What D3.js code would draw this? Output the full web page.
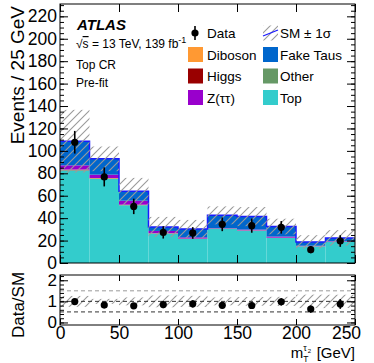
<!DOCTYPE html>
<html>
<head>
<meta charset="utf-8">
<style>
    body { margin: 0; background: white; }
    svg { display: block; }
    text { font-family: "Liberation Sans", Arial, Helvetica, sans-serif; fill: #000; }
    .tick line { stroke: #000; }
</style>
<script src="https://cdn.jsdelivr.net/npm/d3@7"></script>
</head>
<body>
<svg id="chart" width="374" height="363"></svg>
<script>
    // bin edges of mT(tau2) in GeV
    var binEdges = [0, 25, 50, 75, 100, 125, 150, 175, 200, 225, 250];

    // stacked backgrounds, events per bin (bottom to top)
    var top_ = [82.4, 75.0, 51.4, 26.2, 21.4, 30.4, 28.8, 22.3, 14.8, 18.8];
    var other = [0.4, 0.3, 0.3, 0.2, 0.2, 0.1, 0.1, 0.1, 0.1, 0.1];
    var higgs = [0.2, 0.2, 0.1, 0.1, 0.1, 0.1, 0.1, 0.1, 0.05, 0.05];
    var diboson = [0.3, 0.3, 0.2, 0.1, 0.1, 0.1, 0.1, 0.1, 0.05, 0.05];
    var ztautau = [3.8, 3.0, 3.6, 2.0, 1.1, 0.3, 0.7, 1.0, 0.4, 0.4];
    var fakeTaus = [21.5, 14.1, 8.3, 3.5, 7.5, 11.5, 11.6, 8.9, 3.4, 2.9];

    // SM uncertainty (absolute)
    var smUnc = [28, 11, 12, 9, 8, 8, 8.5, 7, 6, 7];

    // observed data
    var dataVals = [107.7, 76.8, 50.5, 27.3, 26.8, 34.5, 33.3, 31.8, 11.9, 19.6];
    var dataErr = [10.1, 8.5, 6.9, 5.5, 5.2, 6.1, 6.3, 5.6, 3.2, 5.2];

    var xTicks = [0, 50, 100, 150, 200, 250];
    var yTicks = [0, 20, 40, 60, 80, 100, 120, 140, 160, 180, 200, 220];
    var ratioTicks = [0, 1, 2];

    var stackNames = ["Top", "Other", "Higgs", "Diboson", "Z(ττ)", "Fake Taus"];
    var stackColors = ["#33cccc", "#669966", "#990000", "#ff9933", "#9900cc", "#0066cc"];
    var stackVals = [top_, other, higgs, diboson, ztautau, fakeTaus];

    var svg = d3.select("#chart");
    var font = "'Liberation Sans', Arial, Helvetica, sans-serif";

    var x = d3.scaleLinear().domain([0, 250]).range([60, 355]);
    var y = d3.scaleLinear().domain([0, 231]).range([263, 4]);
    var yr = d3.scaleLinear().domain([-0.12, 2.25]).range([325, 275]);

    // hatch pattern for the uncertainty band
    var defs = svg.append("defs");
    defs.append("pattern").attr("id", "hatch").attr("patternUnits", "userSpaceOnUse")
        .attr("width", 8).attr("height", 8)
        .append("path").attr("d", "M-2,2 L2,-2 M0,8 L8,0 M6,10 L10,6")
        .attr("stroke", "#9a9a9a").attr("stroke-width", 1.1);

    // totals
    var nBins = binEdges.length - 1;
    var total = [];
    for (var i = 0; i < nBins; i++) {
        var s = 0;
        stackVals.forEach(function (arr) { s += arr[i]; });
        total.push(s);
    }

    // ---- main panel ----
    var gMain = svg.append("g");
    for (var i = 0; i < nBins; i++) {
        var cum = 0;
        stackVals.forEach(function (arr, k) {
            gMain.append("rect")
                .attr("x", x(binEdges[i]))
                .attr("width", x(binEdges[i + 1]) - x(binEdges[i]))
                .attr("y", y(cum + arr[i]))
                .attr("height", y(cum) - y(cum + arr[i]))
                .attr("fill", stackColors[k]);
            cum += arr[i];
        });
    }

    // SM total outline
    var step = [];
    for (var i = 0; i < nBins; i++) {
        step.push([x(binEdges[i]), y(total[i])]);
        step.push([x(binEdges[i + 1]), y(total[i])]);
    }
    gMain.append("path").attr("d", d3.line()(step))
        .attr("fill", "none").attr("stroke", "#1a1aff").attr("stroke-width", 1.5);

    // uncertainty band
    for (var i = 0; i < nBins; i++) {
        gMain.append("rect")
            .attr("x", x(binEdges[i]))
            .attr("width", x(binEdges[i + 1]) - x(binEdges[i]))
            .attr("y", y(total[i] + smUnc[i]))
            .attr("height", y(total[i] - smUnc[i]) - y(total[i] + smUnc[i]))
            .attr("fill", "url(#hatch)");
    }

    // data points
    for (var i = 0; i < nBins; i++) {
        var cx = x((binEdges[i] + binEdges[i + 1]) / 2);
        gMain.append("line").attr("x1", cx).attr("x2", cx)
            .attr("y1", y(dataVals[i] - dataErr[i])).attr("y2", y(dataVals[i] + dataErr[i]))
            .attr("stroke", "#000").attr("stroke-width", 1.6);
        gMain.append("circle").attr("cx", cx).attr("cy", y(dataVals[i])).attr("r", 3.6).attr("fill", "#000");
    }

    // axes of main panel
    var yMinor = d3.range(0, 232, 5);
    svg.append("g").attr("transform", "translate(60,0)")
        .call(d3.axisLeft(y).tickValues(yMinor).tickSizeInner(-4).tickSizeOuter(0).tickFormat(""));
    svg.append("g").attr("transform", "translate(355,0)")
        .call(d3.axisRight(y).tickValues(yMinor).tickSizeInner(-4).tickSizeOuter(0).tickFormat(""));
    svg.append("g").attr("transform", "translate(60,0)")
        .call(d3.axisLeft(y).tickValues(yTicks).tickSizeInner(-8).tickSizeOuter(0).tickPadding(3))
        .call(function (g) {
            g.selectAll("text").style("font-family", font).style("font-size", "17.5px");
        });
    svg.append("g").attr("transform", "translate(355,0)")
        .call(d3.axisRight(y).tickValues(yTicks).tickSizeInner(-8).tickSizeOuter(0).tickFormat(""));
    svg.append("g").attr("transform", "translate(0,4)")
        .call(d3.axisTop(x).tickValues(xTicks).tickSizeInner(-8).tickSizeOuter(0).tickFormat(""));
    svg.append("g").attr("transform", "translate(0,263)")
        .call(d3.axisBottom(x).tickValues(xTicks).tickSizeInner(-8).tickSizeOuter(0).tickFormat(""));
    svg.selectAll(".domain").remove();

    svg.append("rect").attr("x", 60).attr("y", 4).attr("width", 295).attr("height", 259)
        .attr("fill", "none").attr("stroke", "#000").attr("stroke-width", 1);

    svg.append("text").attr("transform", "translate(24,6) rotate(-90)")
        .attr("text-anchor", "end").style("font-size", "19px").text("Events / 25 GeV");

    // ATLAS labels
    svg.append("text").attr("x", 77).attr("y", 30).style("font-size", "15px")
        .style("font-weight", "bold").style("font-style", "italic").text("ATLAS");
    var lumi = svg.append("text").attr("x", 76).attr("y", 48).style("font-size", "12px");
    lumi.append("tspan").text("√");
    lumi.append("tspan").style("text-decoration", "overline").text("s");
    lumi.append("tspan").text(" = 13 TeV, 139 fb");
    lumi.append("tspan").attr("dy", -5).style("font-size", "9px").text("-1");
    svg.append("text").attr("x", 76).attr("y", 69).style("font-size", "12px").text("Top CR");
    svg.append("text").attr("x", 76).attr("y", 87).style("font-size", "12px").text("Pre-fit");

    // legend
    var legLeft = ["Data", "Diboson", "Higgs", "Z(ττ)"];
    var legLeftCol = [null, "#ff9933", "#990000", "#9900cc"];
    var legRight = ["SM ± 1σ", "Fake Taus", "Other", "Top"];
    var legRightCol = [null, "#0066cc", "#669966", "#33cccc"];
    var rowY = [33, 54.5, 76, 97.5];
    var gLeg = svg.append("g");
    rowY.forEach(function (ry, r) {
        if (legLeftCol[r]) {
            gLeg.append("rect").attr("x", 188).attr("y", ry - 7.5).attr("width", 15).attr("height", 15).attr("fill", legLeftCol[r]);
        } else {
            gLeg.append("line").attr("x1", 195).attr("x2", 195).attr("y1", ry - 7).attr("y2", ry + 7)
                .attr("stroke", "#000").attr("stroke-width", 1.6);
            gLeg.append("circle").attr("cx", 195).attr("cy", ry).attr("r", 3.6).attr("fill", "#000");
        }
        gLeg.append("text").attr("x", 207).attr("y", ry + 5).style("font-size", "13.5px").text(legLeft[r]);
        if (legRightCol[r]) {
            gLeg.append("rect").attr("x", 263).attr("y", ry - 7.5).attr("width", 15).attr("height", 15).attr("fill", legRightCol[r]);
        } else {
            gLeg.append("rect").attr("x", 263).attr("y", ry - 7.5).attr("width", 15).attr("height", 15).attr("fill", "url(#hatch)");
            gLeg.append("line").attr("x1", 263).attr("x2", 278).attr("y1", ry + 3).attr("y2", ry - 3)
                .attr("stroke", "#1a1aff").attr("stroke-width", 1.2);
        }
        gLeg.append("text").attr("x", 280).attr("y", ry + 5).style("font-size", "13.5px").text(legRight[r]);
    });

    // ---- ratio panel ----
    var gRat = svg.append("g");
    for (var i = 0; i < nBins; i++) {
        var rel = smUnc[i] / total[i];
        gRat.append("rect")
            .attr("x", x(binEdges[i]))
            .attr("width", x(binEdges[i + 1]) - x(binEdges[i]))
            .attr("y", yr(1 + rel))
            .attr("height", yr(1 - rel) - yr(1 + rel))
            .attr("fill", "url(#hatch)");
    }
    [[0.5, "#333", "4,3"], [1, "#333", "4,3"], [1.5, "#999", "4,3"]].forEach(function (d) {
        gRat.append("line").attr("x1", 60).attr("x2", 355).attr("y1", yr(d[0])).attr("y2", yr(d[0]))
            .attr("stroke", d[1]).attr("stroke-dasharray", d[2]).attr("stroke-width", 1);
    });
    for (var i = 0; i < nBins; i++) {
        var cx = x((binEdges[i] + binEdges[i + 1]) / 2);
        var r = dataVals[i] / total[i];
        var re = dataErr[i] / total[i];
        gRat.append("line").attr("x1", cx).attr("x2", cx)
            .attr("y1", yr(r - re)).attr("y2", yr(r + re))
            .attr("stroke", "#000").attr("stroke-width", 1.6);
        gRat.append("circle").attr("cx", cx).attr("cy", yr(r)).attr("r", 3.6).attr("fill", "#000");
    }

    var rMinor = d3.range(0, 2.25, 0.2);
    svg.append("g").attr("transform", "translate(60,0)")
        .call(d3.axisLeft(yr).tickValues(rMinor).tickSizeInner(-4).tickSizeOuter(0).tickFormat(""));
    svg.append("g").attr("transform", "translate(355,0)")
        .call(d3.axisRight(yr).tickValues(rMinor).tickSizeInner(-4).tickSizeOuter(0).tickFormat(""));
    svg.append("g").attr("transform", "translate(60,0)")
        .call(d3.axisLeft(yr).tickValues(ratioTicks).tickFormat(d3.format("d"))
            .tickSizeInner(-8).tickSizeOuter(0).tickPadding(3))
        .call(function (g) {
            g.selectAll("text").style("font-family", font).style("font-size", "17px");
        });
    svg.append("g").attr("transform", "translate(355,0)")
        .call(d3.axisRight(yr).tickValues(ratioTicks).tickSizeInner(-8).tickSizeOuter(0).tickFormat(""));
    svg.append("g").attr("transform", "translate(0,275)")
        .call(d3.axisTop(x).tickValues(xTicks).tickSizeInner(-6).tickSizeOuter(0).tickFormat(""));
    svg.append("g").attr("transform", "translate(0,325)")
        .call(d3.axisBottom(x).tickValues(xTicks).tickSizeInner(-6).tickSizeOuter(0).tickPadding(2))
        .call(function (g) {
            g.selectAll("text").style("font-family", font).style("font-size", "17.5px");
            g.selectAll("text").filter(function (d) { return d === 250; }).attr("dx", -9);
        });
    svg.selectAll(".domain").remove();

    svg.append("rect").attr("x", 60).attr("y", 275).attr("width", 295).attr("height", 50)
        .attr("fill", "none").attr("stroke", "#000").attr("stroke-width", 1);

    svg.append("text").attr("transform", "translate(24,305) rotate(-90)")
        .attr("text-anchor", "middle").style("font-size", "17px").text("Data/SM");

    // x axis title m_T^{tau2} [GeV]
    var xt = svg.append("text").attr("x", 355).attr("y", 358).attr("text-anchor", "end")
        .style("font-size", "15px").text("[GeV]");
    var gevW = xt.node().getComputedTextLength();
    var mx = 355 - gevW - 26;
    svg.append("text").attr("x", mx).attr("y", 358).style("font-size", "15px").text("m");
    svg.append("text").attr("x", mx + 12.5).attr("y", 362).style("font-size", "8.5px").text("T");
    svg.append("text").attr("x", mx + 12.5).attr("y", 351).style("font-size", "9px").text("τ");
    svg.append("text").attr("x", mx + 17).attr("y", 353).style("font-size", "6px").text("2");
</script>
</body>
</html>
